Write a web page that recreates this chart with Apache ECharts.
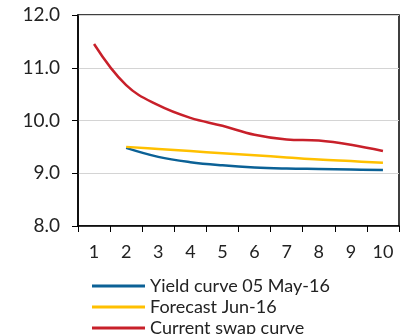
<!DOCTYPE html>
<html><head><meta charset="utf-8">
<script src="https://cdn.jsdelivr.net/npm/echarts@6/dist/echarts.min.js"></script>
<style>html,body{margin:0;padding:0;background:#fff}#c{width:401px;height:334px}</style>
</head><body><div id="c"></div>
<script>
var categories = ['1','2','3','4','5','6','7','8','9','10'];
var yieldCurve = [null, 9.48, 9.31, 9.21, 9.15, 9.11, 9.09, 9.08, 9.07, 9.06];
var forecast = [null, 9.50, 9.46, 9.42, 9.38, 9.34, 9.30, 9.26, 9.23, 9.20];
var swapCurve = [11.45, 10.67, 10.29, 10.05, 9.90, 9.73, 9.64, 9.62, 9.54, 9.42];
var seriesNames = ['Yield curve 05 May-16', 'Forecast Jun-16', 'Current swap curve'];
var colors = ['#0b6196', '#ffc000', '#c8202a'];
var yTicks = [8, 12, 1];

var font = 'Lato';
var legendTops = [277, 298, 319];
var legends = seriesNames.map(function(n, i){
  return {
    orient: 'vertical', left: 87, top: legendTops[i], itemWidth: 53, itemHeight: 3, itemGap: 5,
    icon: 'rect', padding: [0,0,0,5],
    textStyle: {fontFamily: font, fontSize: 18, color: '#222'},
    data: [n]
  };
});
var chart = echarts.init(document.getElementById('c'), null, {renderer:'canvas'});
chart.setOption({
  animation: false,
  grid: {left: 78, right: 2, top: 15, bottom: 108, show: true, borderColor: '#000', borderWidth: 1.5},
  legend: legends,
  xAxis: {
    type: 'category', data: categories, boundaryGap: true,
    axisLine: {lineStyle: {color: '#000', width: 1.5}},
    axisTick: {show: true, length: 6, lineStyle: {color: '#000', width: 1}},
    axisLabel: {fontFamily: font, fontSize: 18, color: '#222', margin: 17}
  },
  yAxis: {
    type: 'value', min: yTicks[0], max: yTicks[1], interval: yTicks[2],
    axisLine: {show: true, lineStyle: {color: '#000', width: 1.5}},
    axisTick: {show: true, length: 6, lineStyle: {color: '#000', width: 1}},
    axisLabel: {fontFamily: font, fontSize: 19, color: '#222', margin: 18, formatter: function(v){return v.toFixed(1);}},
    splitLine: {lineStyle: {color: '#d4d4d4', width: 1}}
  },
  series: seriesNames.map(function(n, i){
    return {name: n, type: 'line', data: [yieldCurve, forecast, swapCurve][i], smooth: 0.4, showSymbol: false,
      lineStyle: {color: colors[i], width: 2.5}, itemStyle: {color: colors[i]}};
  })
});
</script></body></html>
